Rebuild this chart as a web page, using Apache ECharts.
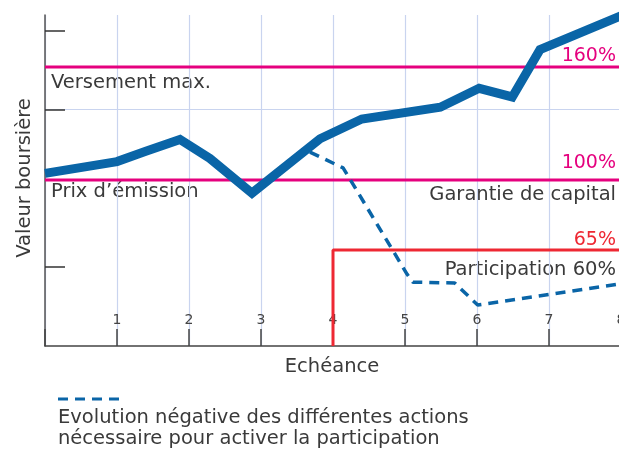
<!DOCTYPE html>
<html><head><meta charset="utf-8">
<script src="https://cdn.jsdelivr.net/npm/echarts@6/dist/echarts.min.js"></script>
<style>html,body{margin:0;padding:0;background:#fff}#c{width:619px;height:450px}</style>
</head><body><div id="c"></div>
<script>
// x: échéance (années), y: niveau relatif (unités de grille)
const xTickLabels = ['1','2','3','4','5','6','7','8'];
const coursAction = [[0,2.19],[1,2.34],[1.4,2.47],[1.875,2.62],[2.29,2.38],[2.875,1.94],[3.82,2.63],[4.4,2.88],[5.49,3.03],[6.03,3.27],[6.49,3.16],[6.875,3.76],[8,4.19]];
const evolutionNegative = [[3.68,2.46],[4.14,2.26],[4.24,2.11],[5.03,0.91],[5.11,0.81],[5.69,0.8],[6.01,0.52],[8,0.79]];
const versementMax = 3.54;     // 160%
const prixEmission = 2.107;    // 100%
const seuilParticipation = 1.218; // 65%
const debutParticipation = 4;
const xMax = 8;

const FONT = 'DejaVu Sans';
const TXT = '#3a3a3a';
const MAG = '#e5007e';
const RED = '#ee2833';
const BLUE = '#0a65a7';
const GRIDC = '#c9d4ef';

const chart = echarts.init(document.getElementById('c'), null, {renderer:'canvas'});
chart.setOption({
  animation:false,
  grid:{left:45, right:-2, top:15, bottom:104, containLabel:false, outerBoundsMode:'none'},
  xAxis:{type:'value', min:0, max:xMax, interval:1,
    axisLine:{lineStyle:{color:'#444', width:1.5}},
    axisTick:{inside:true, length:17, lineStyle:{color:'#444', width:1.5}},
    axisLabel:{inside:true, margin:19, color:'#444', fontFamily:FONT, fontSize:14,
      formatter:v=> (v>=1 ? xTickLabels[v-1] : '')},
    splitLine:{show:true, lineStyle:{color:GRIDC, width:1.2}}},
  yAxis:{type:'value', min:0, max:4.2, interval:1,
    axisLine:{show:true, lineStyle:{color:'#555', width:1.5}},
    axisTick:{show:true, inside:true, length:20, customValues:[1,3,4], lineStyle:{color:'#333', width:1.5}},
    axisLabel:{show:false},
    splitLine:{show:true, lineStyle:{color:['transparent',GRIDC,'transparent',GRIDC,GRIDC,'transparent'], width:1.2}}},
  series:[
    {type:'line', data:[[0,versementMax],[xMax,versementMax]], symbol:'none', lineStyle:{color:MAG, width:3}, z:3},
    {type:'line', data:[[0,prixEmission],[xMax,prixEmission]], symbol:'none', lineStyle:{color:MAG, width:3}, z:3},
    {type:'line', data:[[debutParticipation,0],[debutParticipation,seuilParticipation],[xMax,seuilParticipation]], symbol:'none', lineStyle:{color:RED, width:3}, z:3},
    {type:'line', data:evolutionNegative, symbol:'none', lineStyle:{color:BLUE, width:3.5, type:[10,7]}, z:4},
    {type:'line', data:coursAction, symbol:'none', lineStyle:{color:BLUE, width:9, join:'miter'}, z:5}
  ],
  graphic:[
    {type:'text', x:51, y:83, style:{text:'Versement max.', fill:TXT, font:'19.5px '+FONT, align:'left', verticalAlign:'middle'}},
    {type:'text', x:51, y:192, style:{text:'Prix d’émission', fill:TXT, font:'19.5px '+FONT, align:'left', verticalAlign:'middle'}},
    {type:'text', x:616, y:56, style:{text:'160%', fill:MAG, font:'19px '+FONT, align:'right', verticalAlign:'middle'}},
    {type:'text', x:616, y:163, style:{text:'100%', fill:MAG, font:'19px '+FONT, align:'right', verticalAlign:'middle'}},
    {type:'text', x:616, y:195, style:{text:'Garantie de capital', fill:TXT, font:'19.5px '+FONT, align:'right', verticalAlign:'middle'}},
    {type:'text', x:616, y:240, style:{text:'65%', fill:RED, font:'19px '+FONT, align:'right', verticalAlign:'middle'}},
    {type:'text', x:616, y:270, style:{text:'Participation 60%', fill:TXT, font:'19.5px '+FONT, align:'right', verticalAlign:'middle'}},
    {type:'text', x:25, y:178, rotation:Math.PI/2, style:{text:'Valeur boursière', fill:TXT, font:'19.5px '+FONT, align:'center', verticalAlign:'middle'}},
    {type:'text', x:332, y:367, style:{text:'Echéance', fill:TXT, font:'19.5px '+FONT, align:'center', verticalAlign:'middle'}},
    {type:'line', shape:{x1:58, y1:399, x2:121, y2:399}, style:{stroke:BLUE, lineWidth:3, lineDash:[10,7]}},
    {type:'text', x:58, y:418, style:{text:'Evolution négative des différentes actions', fill:TXT, font:'19.5px '+FONT, align:'left', verticalAlign:'middle'}},
    {type:'text', x:58, y:439, style:{text:'nécessaire pour activer la participation', fill:TXT, font:'19.5px '+FONT, align:'left', verticalAlign:'middle'}}
  ]
});
</script></body></html>
